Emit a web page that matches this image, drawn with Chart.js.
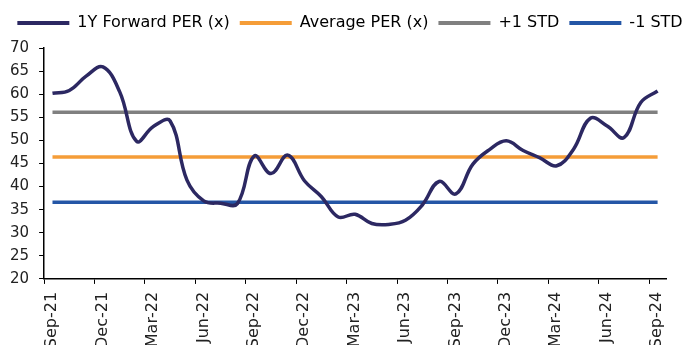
<!DOCTYPE html>
<html>
<head>
<meta charset="utf-8">
<script src="https://cdn.jsdelivr.net/npm/chart.js@4/dist/chart.umd.min.js"></script>
<style>
  html, body { margin: 0; padding: 0; background: #fff; }
</style>
</head>
<body>
<canvas id="chart" width="686" height="345"></canvas>
<script>
// quarterly tick labels on the month axis (Sep-21 = month 0)
const tickLabels = ['Sep-21', 'Dec-21', 'Mar-22', 'Jun-22', 'Sep-22', 'Dec-22', 'Mar-23',
  'Jun-23', 'Sep-23', 'Dec-23', 'Mar-24', 'Jun-24', 'Sep-24'];

// monthly readings, plotted mid-month, Sep-21 .. Sep-24
const months = [0.5, 1.5, 2.5, 3.5, 4.5, 5.5, 6.5, 7.5, 8.5, 9.5, 10.5, 11.5,
  12.5, 13.5, 14.5, 15.5, 16.5, 17.5, 18.5, 19.5, 20.5, 21.5, 22.5, 23.5,
  24.5, 25.5, 26.5, 27.5, 28.5, 29.5, 30.5, 31.5, 32.5, 33.5, 34.5, 35.5, 36.5];
const forwardPer = [60.2, 60.8, 63.9, 65.9, 60.5, 49.8, 53.0, 54.2, 41.4, 36.9, 36.4, 36.3,
  46.6, 42.8, 46.8, 41.2, 37.8, 33.4, 34.0, 32.0, 31.8, 32.7, 36.0, 41.1,
  38.4, 44.8, 48.0, 49.9, 47.8, 46.2, 44.5, 48.1, 54.8, 53.1, 50.6, 58.2, 60.7];

const averagePer = 46.4;
const plusOneStd = 56.1;
const minusOneStd = 36.6;

const colors = {
  per: '#2c2862',
  avg: '#f59d38',
  plus: '#808080',
  minus: '#2456a6'
};

const xy = vals => vals.map((v, i) => ({ x: months[i], y: v }));
const flat = v => [{ x: months[0], y: v }, { x: months[months.length - 1], y: v }];

// legend: a bit more room under it, and nudged right like the original
const legendTweak = {
  id: 'legendTweak',
  beforeInit(chart) {
    const legend = chart.legend;
    const fit = legend.fit;
    legend.fit = function () {
      fit.bind(legend)();
      this.height += 7;
    };
    const draw = legend.draw;
    legend.draw = function () {
      chart.ctx.save();
      chart.ctx.translate(7, 0);
      draw.apply(legend, arguments);
      chart.ctx.restore();
    };
  }
};

const ctx = document.getElementById('chart').getContext('2d');
new Chart(ctx, {
  type: 'line',
  data: {
    datasets: [
      { label: '1Y Forward PER (x)', data: xy(forwardPer), borderColor: colors.per, backgroundColor: colors.per, borderWidth: 3.5, tension: 0.4, pointRadius: 0 },
      { label: 'Average PER (x)', data: flat(averagePer), borderColor: colors.avg, backgroundColor: colors.avg, borderWidth: 3.5, pointRadius: 0 },
      { label: '+1 STD', data: flat(plusOneStd), borderColor: colors.plus, backgroundColor: colors.plus, borderWidth: 3.5, pointRadius: 0 },
      { label: '-1 STD', data: flat(minusOneStd), borderColor: colors.minus, backgroundColor: colors.minus, borderWidth: 3.5, pointRadius: 0 }
    ]
  },
  options: {
    responsive: false,
    animation: false,
    layout: { padding: { left: 0, right: 0, top: 5, bottom: -12 } },
    plugins: {
      tooltip: { enabled: false },
      legend: {
        display: true,
        position: 'top',
        labels: {
          color: '#222',
          font: { family: 'DejaVu Sans', size: 16 },
          boxWidth: 52,
          boxHeight: 4,
          padding: 10,
          generateLabels: chart => chart.data.datasets.map((ds, i) => ({
            text: ds.label,
            fillStyle: ds.borderColor,
            strokeStyle: ds.borderColor,
            lineWidth: 0,
            datasetIndex: i
          }))
        }
      }
    },
    scales: {
      x: {
        type: 'linear',
        min: 0,
        max: 37,
        grid: { drawOnChartArea: false, drawTicks: true, tickLength: 5, color: '#000' },
        border: { color: '#000', width: 1.5 },
        ticks: {
          stepSize: 3,
          includeBounds: false,
          autoSkip: false,
          maxRotation: 90,
          minRotation: 90,
          padding: 8,
          labelOffset: 8,
          color: '#222',
          font: { family: 'DejaVu Sans', size: 16 },
          callback: v => tickLabels[v / 3]
        }
      },
      y: {
        min: 20,
        max: 70,
        grid: { drawOnChartArea: false, drawTicks: true, tickLength: 5, color: '#000' },
        border: { color: '#000', width: 1.5 },
        ticks: {
          stepSize: 5,
          padding: 10,
          color: '#222',
          font: { family: 'DejaVu Sans', size: 15 }
        }
      },
      // empty axis that only keeps a margin on the right of the plot
      spacer: {
        position: 'right',
        grid: { display: false },
        border: { display: false },
        ticks: { display: false },
        afterFit: scale => { scale.width = 20; }
      }
    }
  },
  plugins: [legendTweak]
});
</script>
</body>
</html>
